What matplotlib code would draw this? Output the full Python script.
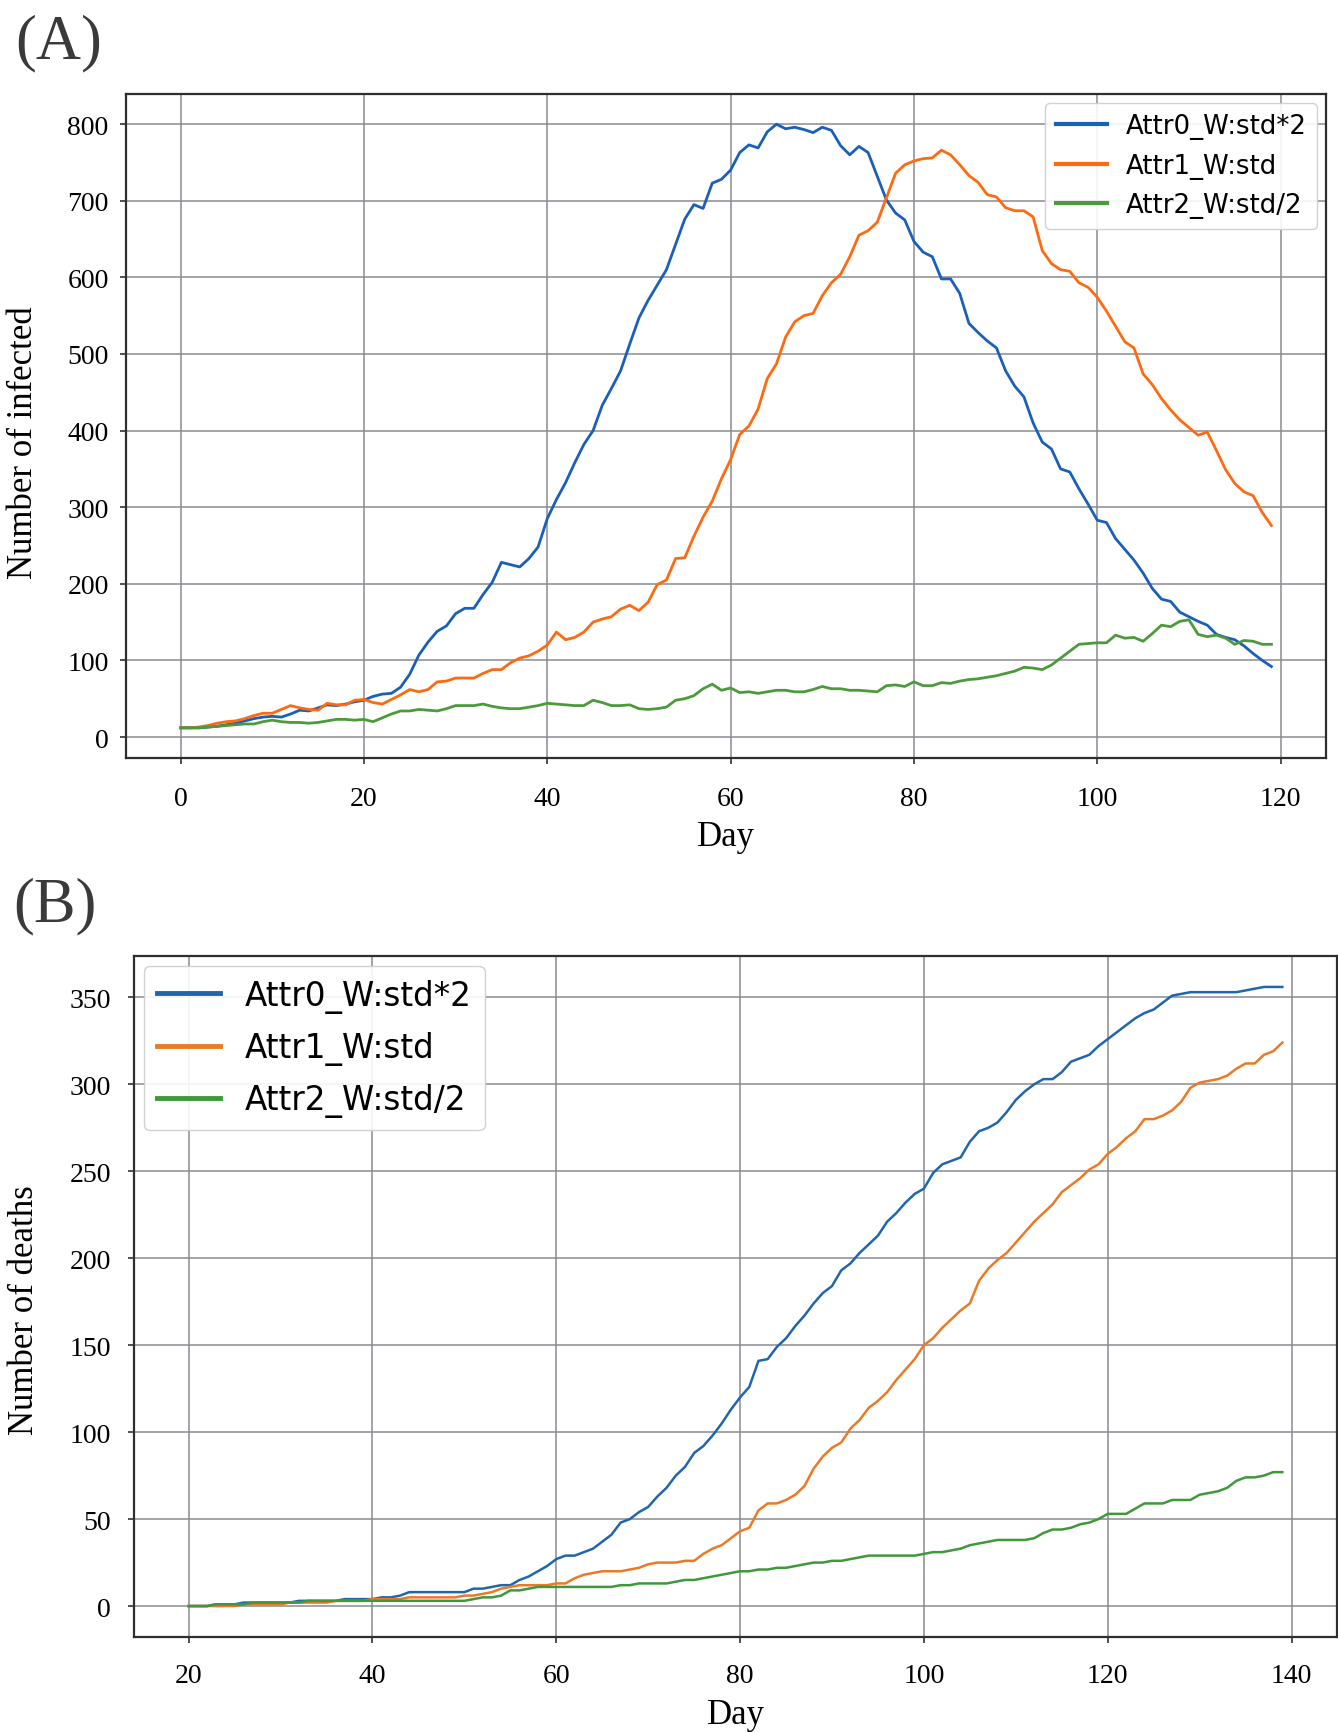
## plot.py
## Two panel figure: daily infected (A) and cumulative deaths (B)
## for three attribute weightings.

import matplotlib
matplotlib.use('Agg')
from matplotlib import pyplot as plt
import numpy as np

# ---- data ----
labels = ["Attr0_W:std*2", "Attr1_W:std", "Attr2_W:std/2"]

days_a = np.arange(0, 120)
infected_attr0 = [12, 12, 12, 13, 14, 16, 18, 21, 24, 26, 27, 26, 30, 35, 34, 38, 42, 41, 43, 46,
                  48, 53, 56, 57, 65, 82, 107, 124, 138, 145, 161, 168, 168, 186, 202, 228, 225, 222, 233, 248,
                  285, 310, 332, 358, 382, 400, 433, 455, 478, 513, 547, 570, 590, 610, 643, 676, 695, 690, 723, 728,
                  740, 763, 773, 769, 790, 800, 794, 796, 793, 789, 796, 792, 772, 760, 771, 763, 732, 701, 684, 675,
                  647, 633, 627, 598, 598, 579, 540, 528, 517, 508, 478, 458, 444, 410, 385, 376, 350, 346, 324, 304,
                  283, 280, 259, 245, 231, 214, 194, 180, 177, 163, 157, 151, 146, 134, 130, 127, 119, 109, 100, 92]
infected_attr1 = [12, 12, 13, 15, 18, 20, 21, 24, 28, 31, 31, 36, 41, 38, 36, 35, 44, 42, 42, 48,
                  49, 45, 43, 49, 55, 62, 59, 62, 72, 73, 77, 77, 77, 83, 88, 88, 97, 103, 106, 112,
                  120, 137, 127, 130, 137, 150, 154, 157, 167, 172, 165, 176, 199, 205, 233, 234, 262, 287, 308, 337,
                  362, 395, 406, 428, 468, 487, 522, 542, 550, 553, 576, 593, 604, 627, 655, 661, 672, 704, 736, 747,
                  752, 755, 756, 766, 760, 747, 733, 724, 708, 705, 691, 687, 687, 679, 635, 618, 610, 608, 593, 587,
                  574, 556, 536, 516, 508, 474, 460, 442, 427, 414, 404, 394, 398, 374, 349, 331, 320, 315, 293, 276]
infected_attr2 = [12, 12, 12, 13, 14, 15, 16, 17, 17, 20, 22, 20, 19, 19, 18, 19, 21, 23, 23, 22,
                  23, 20, 25, 30, 34, 34, 36, 35, 34, 37, 41, 41, 41, 43, 40, 38, 37, 37, 39, 41,
                  44, 43, 42, 41, 41, 48, 45, 41, 41, 42, 37, 36, 37, 39, 48, 50, 54, 63, 69, 61,
                  64, 58, 59, 57, 59, 61, 61, 59, 59, 62, 66, 63, 63, 61, 61, 60, 59, 67, 68, 66,
                  72, 67, 67, 71, 70, 73, 75, 76, 78, 80, 83, 86, 91, 90, 88, 94, 103, 112, 121, 122,
                  123, 123, 133, 129, 130, 125, 135, 146, 144, 151, 153, 134, 131, 133, 129, 121, 126, 125, 121, 121]

days_b = np.arange(20, 140)
deaths_attr0 = [0, 0, 0, 1, 1, 1, 2, 2, 2, 2, 2, 2, 3, 3, 3, 3, 3, 4, 4, 4,
                4, 5, 5, 6, 8, 8, 8, 8, 8, 8, 8, 10, 10, 11, 12, 12, 15, 17, 20, 23,
                27, 29, 29, 31, 33, 37, 41, 48, 50, 54, 57, 63, 68, 75, 80, 88, 92, 98, 105, 113,
                120, 126, 141, 142, 149, 154, 161, 167, 174, 180, 184, 193, 197, 203, 208, 213, 221, 226, 232, 237,
                240, 249, 254, 256, 258, 267, 273, 275, 278, 284, 291, 296, 300, 303, 303, 307, 313, 315, 317, 322,
                326, 330, 334, 338, 341, 343, 347, 351, 352, 353, 353, 353, 353, 353, 353, 354, 355, 356, 356, 356]
deaths_attr1 = [0, 0, 0, 0, 0, 0, 1, 1, 1, 1, 1, 2, 2, 2, 2, 2, 3, 3, 3, 3,
                4, 4, 4, 4, 5, 5, 5, 5, 5, 5, 6, 6, 7, 8, 10, 11, 12, 12, 12, 12,
                13, 13, 16, 18, 19, 20, 20, 20, 21, 22, 24, 25, 25, 25, 26, 26, 30, 33, 35, 39,
                43, 45, 55, 59, 59, 61, 64, 69, 79, 86, 91, 94, 102, 107, 114, 118, 123, 130, 136, 142,
                150, 154, 160, 165, 170, 174, 187, 194, 199, 203, 209, 215, 221, 226, 231, 238, 242, 246, 251, 254,
                260, 264, 269, 273, 280, 280, 282, 285, 290, 298, 301, 302, 303, 305, 309, 312, 312, 317, 319, 324]
deaths_attr2 = [0, 0, 0, 1, 1, 1, 1, 2, 2, 2, 2, 2, 2, 3, 3, 3, 3, 3, 3, 3,
                3, 3, 3, 3, 3, 3, 3, 3, 3, 3, 3, 4, 5, 5, 6, 9, 9, 10, 11, 11,
                11, 11, 11, 11, 11, 11, 11, 12, 12, 13, 13, 13, 13, 14, 15, 15, 16, 17, 18, 19,
                20, 20, 21, 21, 22, 22, 23, 24, 25, 25, 26, 26, 27, 28, 29, 29, 29, 29, 29, 29,
                30, 31, 31, 32, 33, 35, 36, 37, 38, 38, 38, 38, 39, 42, 44, 44, 45, 47, 48, 50,
                53, 53, 53, 56, 59, 59, 59, 61, 61, 61, 64, 65, 66, 68, 72, 74, 74, 75, 77, 77]

colors_a = ["#1a5fb8", "#ff6a10", "#4c9a3c"]
colors_b = ["#2166ac", "#ec7a24", "#3f983a"]

tick_font = "Liberation Serif"
grid_color = "#8a8a92"


def style_axes(ax, ylabel, xpad, ypad):
    ax.grid(True, color=grid_color, linewidth=1.1)
    ax.set_axisbelow(True)
    for sp in ax.spines.values():
        sp.set_color("#2e2e2e")
        sp.set_linewidth(1.6)
    ax.tick_params(axis="both", direction="out", length=4.5, width=1.2,
                   color="#333333", labelsize=20)
    ax.tick_params(axis="x", pad=xpad)
    ax.tick_params(axis="y", pad=ypad)
    for lab in ax.get_xticklabels() + ax.get_yticklabels():
        lab.set_family(tick_font)
    ax.set_xlabel("Day", family=tick_font, fontsize=25)
    ax.set_ylabel(ylabel, family=tick_font, fontsize=25)


fig = plt.figure(figsize=(13.38, 17.33), dpi=100)
W, H = 1338.0, 1733.0

# ---- panel A: infected ----
axA = fig.add_axes([126 / W, 1 - 759 / H, 1200 / W, 664 / H])
for vals, c, lab in zip([infected_attr0, infected_attr1, infected_attr2], colors_a, labels):
    axA.plot(days_a, vals, color=c, linewidth=2.0, label=lab)
axA.set_xticks(np.arange(0, 121, 20))
axA.set_yticks(np.arange(0, 801, 100))
style_axes(axA, "Number of infected", xpad=16, ypad=8)
axA.xaxis.set_label_coords(0.5, -0.094)
axA.yaxis.set_label_coords(-0.072, 0.477)
legA = axA.legend(loc="upper right", fontsize=18.7, labelspacing=0.52,
                  handlelength=2.0, handletextpad=0.7, borderaxespad=0.35,
                  framealpha=0.9, edgecolor="#cccccc")
for line in legA.get_lines():
    line.set_linewidth(3.0)

# ---- panel B: deaths ----
axB = fig.add_axes([134 / W, 1 - 1638 / H, 1203 / W, 681 / H])
for vals, c, lab in zip([deaths_attr0, deaths_attr1, deaths_attr2], colors_b, labels):
    axB.plot(days_b, vals, color=c, linewidth=1.8, label=lab)
axB.set_xticks(np.arange(20, 141, 20))
axB.set_yticks(np.arange(0, 351, 50))
style_axes(axB, "Number of deaths", xpad=14, ypad=12)
axB.xaxis.set_label_coords(0.5, -0.09)
axB.yaxis.set_label_coords(-0.077, 0.481)
legB = axB.legend(loc="upper left", fontsize=23.5, labelspacing=0.56,
                  handlelength=1.95, handletextpad=0.75, borderaxespad=0.3,
                  framealpha=0.9, edgecolor="#cccccc")
for line in legB.get_lines():
    line.set_linewidth(3.5)

# ---- panel tags ----
fig.text(15 / W, 1 - 14 / H, "(A)", family="Liberation Serif", fontsize=45,
         color="#3a3a3a", ha="left", va="top")
fig.text(13 / W, 1 - 877 / H, "(B)", family="Liberation Serif", fontsize=45,
         color="#3a3a3a", ha="left", va="top")

plt.savefig("out.png", dpi=100)
plt.close()
